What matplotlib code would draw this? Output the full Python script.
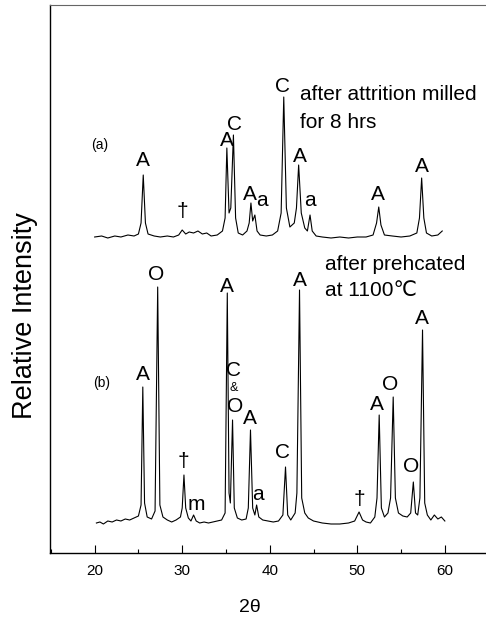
import matplotlib
matplotlib.use("Agg")
import matplotlib.pyplot as plt
from matplotlib.ticker import MultipleLocator

# XRD traces (2theta, relative intensity in arbitrary units)
theta_a = [20.0, 20.8, 21.5, 22.3, 23.0, 23.8, 24.5, 25.0, 25.3, 25.55, 25.8, 26.1,
           26.8, 27.5, 28.3, 29.0, 29.6, 30.0, 30.4, 30.8, 31.3, 31.8, 32.3, 32.8,
           33.3, 34.0, 34.6, 34.9, 35.1, 35.35, 35.55, 35.85, 36.1, 36.4, 36.9, 37.4,
           37.65, 37.85, 38.05, 38.3, 38.55, 38.9, 39.6, 40.3, 40.9, 41.3, 41.6, 41.9,
           42.3, 42.8, 43.05, 43.3, 43.6, 44.0, 44.3, 44.6, 44.85, 45.3, 46.0, 47.0,
           48.0, 49.0, 50.0, 51.0, 51.8, 52.2, 52.45, 52.7, 53.1, 54.0, 55.0, 56.0,
           56.8, 57.1, 57.35, 57.6, 57.9, 58.5, 59.2, 59.7]
int_a = [316, 317, 315, 317, 316, 318, 317, 319, 330, 378, 330, 319,
         317, 316, 317, 316, 318, 323, 319, 321, 320, 322, 319, 320,
         317, 318, 322, 335, 405, 340, 345, 418, 335, 320, 318, 322,
         330, 350, 332, 338, 322, 318, 317, 318, 322, 340, 456, 345,
         326, 330, 345, 388, 340, 325, 322, 338, 322, 317, 316, 315,
         316, 315, 316, 316, 318, 330, 346, 328, 318, 317, 316, 317,
         320, 335, 375, 335, 320, 317, 318, 322]

theta_b = [20.2, 20.6, 21.0, 21.5, 22.0, 22.5, 23.0, 23.5, 24.0, 24.5, 25.0, 25.3,
           25.5, 25.7, 26.0, 26.5, 26.9, 27.2, 27.45, 27.8, 28.3, 28.8, 29.3, 29.8,
           30.0, 30.2, 30.4, 30.7, 31.0, 31.3, 31.6, 32.0, 32.5, 33.0, 33.5, 34.0,
           34.5, 34.9, 35.15, 35.35, 35.5, 35.75, 35.95, 36.3, 36.8, 37.3, 37.55, 37.8,
           38.05, 38.3, 38.5, 38.75, 39.2, 39.8, 40.4, 41.0, 41.5, 41.8, 42.05, 42.4,
           42.9, 43.1, 43.4, 43.65, 44.0, 44.4, 45.0, 46.0, 47.0, 48.0, 49.0, 49.7,
           50.2, 50.6, 51.0, 51.5, 52.0, 52.25, 52.5, 52.75, 53.1, 53.5, 53.8, 54.1,
           54.35, 54.7, 55.2, 55.7, 56.1, 56.4, 56.65, 56.9, 57.15, 57.45, 57.7, 58.0,
           58.4, 58.8, 59.2, 59.6, 60.0]
int_b = [30, 31, 29, 32, 31, 33, 32, 34, 33, 35, 37, 48,
         166, 50, 36, 34, 42, 266, 48, 36, 33, 31, 33, 36,
         45, 78, 45, 35, 32, 38, 32, 30, 31, 30, 31, 32,
         33, 40, 260, 60, 50, 133, 45, 35, 33, 34, 45, 123,
         45, 38, 48, 36, 33, 32, 31, 32, 38, 86, 38, 33,
         40, 60, 263, 55, 40, 35, 32, 30, 29, 29, 30, 32,
         41, 33, 31, 30, 36, 55, 138, 45, 36, 40, 55, 156,
         55, 40, 37, 36, 40, 71, 40, 38, 55, 223, 50, 38,
         33, 38, 34, 36, 32]

# phase labels: (text, 2theta, intensity)
labels_a = [("A", 25.5, 393), ("\u2020", 30.0, 341), ("A", 35.1, 413), ("C", 36.0, 429),
            ("A", 37.7, 358), ("a", 39.1, 353), ("C", 41.4, 466), ("A", 43.4, 396),
            ("a", 44.6, 353), ("A", 52.3, 358), ("A", 57.4, 387)]
labels_b = [("A", 25.5, 178), ("O", 27.0, 279), ("\u2020", 30.1, 92), ("m", 31.6, 48),
            ("A", 35.1, 267), ("C", 35.9, 183), ("&", 35.9, 165), ("O", 36.0, 147),
            ("A", 37.7, 135), ("a", 38.6, 58), ("C", 41.5, 101), ("A", 43.4, 273),
            ("\u2020", 50.2, 54), ("A", 52.2, 149), ("O", 53.8, 169), ("O", 56.2, 86),
            ("A", 57.4, 235)]

fonts = ['Liberation Sans', 'DejaVu Sans']

fig = plt.figure(figsize=(4.86, 6.18), dpi=100)
ax = fig.add_axes([50 / 486, 1 - 553 / 618, 1 - 50 / 486, 548 / 618])

ax.plot(theta_a, int_a, color='black', lw=0.8)
ax.plot(theta_b, int_b, color='black', lw=0.8)

for txt, x, y in labels_a + labels_b:
    size = 9 if txt == "&" else 15
    ax.text(x, y, txt, ha='center', va='center', fontsize=size, family=fonts)

ax.text(20.6, 408, "(a)", ha='center', va='center', fontsize=10, family=fonts)
ax.text(20.8, 170, "(b)", ha='center', va='center', fontsize=10, family=fonts)

ax.text(43.4, 458, "after attrition milled", ha='left', va='center', fontsize=15, family=fonts)
ax.text(43.4, 431, "for 8 hrs", ha='left', va='center', fontsize=15, family=fonts)
ax.text(46.3, 289, "after prehcated", ha='left', va='center', fontsize=15, family=fonts)
ax.text(46.3, 263, "at 1100\u2103", ha='left', va='center', fontsize=15, family=fonts)

ax.set_xlim(14.9, 64.7)
ax.set_ylim(0, 548)
ax.set_yticks([])
ax.xaxis.set_major_locator(MultipleLocator(10))
ax.xaxis.set_minor_locator(MultipleLocator(5))
ax.tick_params(axis='x', which='major', direction='in', length=6, width=0.8, pad=8, labelsize=11)
ax.tick_params(axis='x', which='minor', direction='in', length=3, width=0.8)
for lab in ax.get_xticklabels():
    lab.set_family(fonts)
ax.spines['right'].set_visible(False)
ax.spines['top'].set_color('#666666')
ax.spines['left'].set_linewidth(1.0)
ax.spines['bottom'].set_linewidth(1.0)

fig.text(250 / 486, 1 - 608 / 618, "2\u03b8", ha='center', va='center', fontsize=14, family=fonts)
fig.text(25 / 486, 1 - 316 / 618, "Relative Intensity", ha='center', va='center',
         rotation=90, fontsize=19.5, family=fonts)

fig.savefig("out.png", dpi=100)
